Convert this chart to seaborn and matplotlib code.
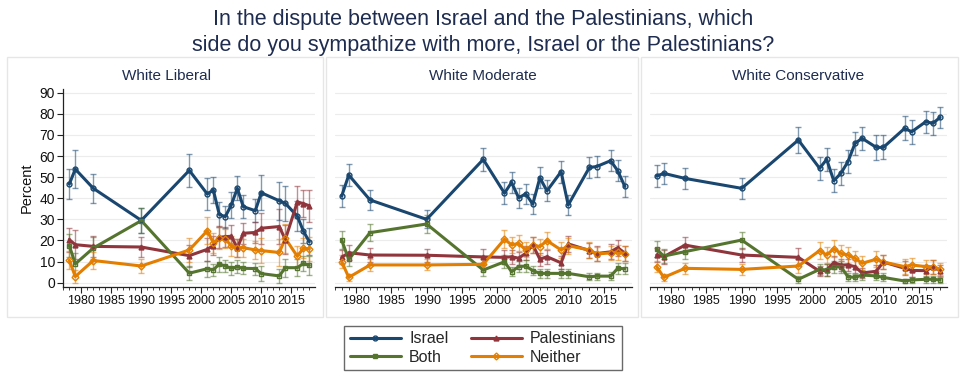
import numpy as np
import pandas as pd
import seaborn as sns
import matplotlib.pyplot as plt
from matplotlib.lines import Line2D
from matplotlib.patches import Rectangle

years = [1978, 1979, 1982, 1990, 1998, 2001, 2002, 2003, 2004, 2005,
         2006, 2007, 2009, 2010, 2013, 2014, 2016, 2017, 2018]

# White Liberal
lib_israel = [46.7, 53.8, 44.7, 29.5, 53.2, 42.0, 43.9, 32.3, 31.3, 36.8,
              44.7, 36.0, 34.1, 42.6, 38.8, 37.6, 31.5, 24.5, 19.4]
lib_pal = [20.4, 18.0, 17.2, 16.9, 12.8, 15.8, 17.6, 21.5, 21.8, 22.0,
           16.4, 23.4, 23.8, 25.8, 26.6, 20.4, 38.2, 37.5, 36.4]
lib_both = [17.5, 8.9, 16.4, 29.4, 4.5, 6.6, 6.1, 8.8, 7.9, 6.8,
            7.5, 6.8, 6.7, 4.3, 3.2, 7.1, 7.1, 9.1, 8.2]
lib_neither = [10.6, 2.9, 10.5, 7.9, 15.5, 24.6, 18.9, 21.0, 20.8, 17.4,
               16.6, 16.6, 15.5, 15.2, 14.3, 21.0, 12.5, 16.3, 16.0]
lib_n = [195, 118, 210, 230, 155, 170, 260, 240, 300, 250,
         290, 290, 300, 135, 110, 135, 165, 235, 150]

# White Moderate
mod_israel = [41.0, 51.0, 39.2, 30.0, 58.4, 42.4, 47.5, 40.2, 42.1, 37.2,
              49.7, 43.5, 52.6, 36.8, 54.6, 55.0, 57.8, 53.0, 45.6]
mod_pal = [12.0, 14.2, 13.1, 13.0, 12.2, 12.0, 12.3, 11.6, 13.9, 17.9,
           11.1, 12.3, 9.4, 18.4, 15.2, 13.8, 14.6, 16.6, 14.0]
mod_both = [20.2, 11.0, 23.7, 27.8, 6.0, 9.9, 5.2, 7.6, 7.9, 5.7,
            4.4, 4.4, 4.4, 4.4, 2.8, 3.1, 3.1, 6.8, 6.6]
mod_neither = [10.0, 2.5, 8.4, 8.4, 8.7, 20.6, 17.9, 18.6, 15.5, 17.9,
               17.1, 19.9, 15.5, 17.5, 15.5, 13.6, 14.1, 14.4, 13.8]
mod_n = [356, 367, 414, 437, 308, 360, 380, 400, 400, 420,
         380, 380, 360, 404, 380, 400, 380, 380, 370]

# White Conservative
con_israel = [50.5, 51.8, 49.4, 44.7, 67.6, 54.2, 58.4, 48.3, 51.8, 57.3,
              66.0, 68.4, 64.1, 64.1, 73.1, 71.5, 76.3, 75.5, 78.3]
con_pal = [13.1, 12.3, 17.8, 13.1, 12.0, 5.4, 6.0, 9.5, 8.4, 8.4,
           7.6, 4.6, 5.4, 9.8, 6.8, 5.8, 5.7, 7.4, 5.7]
con_both = [15.8, 12.6, 14.7, 20.2, 1.6, 6.3, 6.0, 7.3, 7.6, 2.8,
            2.5, 3.6, 3.2, 2.5, 0.8, 1.3, 1.6, 1.6, 1.3]
con_neither = [7.6, 2.5, 6.8, 6.3, 7.9, 15.2, 13.1, 16.1, 13.9, 13.1,
               11.6, 9.2, 11.1, 9.8, 7.6, 8.4, 7.6, 7.6, 6.3]
con_n = [368, 370, 380, 380, 226, 327, 300, 330, 330, 330,
         300, 280, 260, 270, 232, 250, 250, 250, 275]

panels = ["White Liberal", "White Moderate", "White Conservative"]
sides = ["Israel", "Palestinians", "Both", "Neither"]

values = {
    "White Liberal": [lib_israel, lib_pal, lib_both, lib_neither],
    "White Moderate": [mod_israel, mod_pal, mod_both, mod_neither],
    "White Conservative": [con_israel, con_pal, con_both, con_neither],
}
sizes = {"White Liberal": lib_n, "White Moderate": mod_n, "White Conservative": con_n}

rows = []
for p in panels:
    for s, vals in zip(sides, values[p]):
        for y, v, n in zip(years, vals, sizes[p]):
            rows.append({"panel": p, "side": s, "year": y, "pct": v, "n": n})
df = pd.DataFrame(rows)
# 95% confidence interval from sample size
df["ci"] = 1.96 * np.sqrt(df["pct"] * (100 - df["pct"]) / df["n"])

colors = {"Israel": "#1a476f", "Palestinians": "#90353b",
          "Both": "#55752f", "Neither": "#e37e00"}
markers = {"Israel": "o", "Palestinians": "^", "Both": "s", "Neither": "D"}
fills = {"Israel": "none", "Palestinians": "full", "Both": "none", "Neither": "none"}

sns.set_theme(style="white")
plt.rcParams["font.family"] = ["Liberation Sans", "DejaVu Sans"]

fig = plt.figure(figsize=(9.66, 3.86), dpi=100)
W, H = 966, 386

# light frames round each panel
for x0, x1 in [(7, 323), (326, 638), (641, 958)]:
    fig.patches.append(Rectangle((x0 / W, 1 - 317 / H), (x1 - x0) / W, 260 / H,
                                 transform=fig.transFigure, fill=False,
                                 edgecolor="#e6e6e6", linewidth=1))

axes_px = [(63.3, 315.3), (334.6, 631.9), (649.6, 947.1)]
top_px, bot_px = 88.5, 286.9

for p, (x0, x1) in zip(panels, axes_px):
    ax = fig.add_axes([x0 / W, 1 - bot_px / H, (x1 - x0) / W, (bot_px - top_px) / H])
    sub = df[df["panel"] == p]
    for s in sides:
        d = sub[sub["side"] == s]
        ax.errorbar(d["year"], d["pct"], yerr=d["ci"], fmt="none",
                    ecolor=colors[s], alpha=0.55, elinewidth=1.0,
                    capsize=2, capthick=1.0, zorder=2)
    sns.lineplot(data=sub, x="year", y="pct", hue="side", hue_order=sides,
                 palette=colors, linewidth=2.2, legend=False, ax=ax,
                 errorbar=None, zorder=3)
    for s in sides:
        d = sub[sub["side"] == s]
        ax.plot(d["year"], d["pct"], linestyle="none", marker=markers[s],
                markersize=3.5, color=colors[s], fillstyle=fills[s],
                markeredgewidth=1.0, zorder=4)

    ax.set_xlim(1977, 2019)
    ax.set_ylim(-2, 92)
    ax.set_yticks(range(0, 91, 10))
    ax.set_xticks(range(1980, 2016, 5))
    ax.set_xticks(range(1977, 2019), minor=True)
    ax.yaxis.grid(True, color="#ececec", linewidth=0.8)
    ax.set_axisbelow(True)
    for side in ["top", "right"]:
        ax.spines[side].set_visible(False)
    ax.spines["bottom"].set_color("#222222")
    ax.spines["bottom"].set_linewidth(0.9)
    ax.tick_params(axis="x", which="major", bottom=True, length=4, width=0.8,
                   color="#222222", labelsize=9, pad=2, labelcolor="#111111")
    ax.tick_params(axis="x", which="minor", bottom=True, length=2, width=0.6,
                   color="#222222")
    if p == "White Liberal":
        ax.spines["left"].set_color("#222222")
        ax.spines["left"].set_linewidth(0.9)
        ax.tick_params(axis="y", left=True, length=4, width=0.8, color="#222222",
                       labelsize=10, pad=2, labelcolor="#111111")
        ax.set_ylabel("Percent", fontsize=10.5, color="#111111", labelpad=4)
    else:
        ax.spines["left"].set_visible(False)
        ax.set_yticklabels([])
        ax.tick_params(axis="y", left=False)
        ax.set_ylabel("")
    ax.set_xlabel("")
    fig.text((x0 + x1) / 2 / W if p != "White Liberal" else 166.5 / W,
             1 - 75.5 / H, p, ha="center", va="center", fontsize=11,
             color="#1e2c50")

fig.text(0.5, 1 - 20 / H,
         "In the dispute between Israel and the Palestinians, which",
         ha="center", va="center", fontsize=15.5, color="#1e2c50")
fig.text(0.5, 1 - 45 / H,
         "side do you sympathize with more, Israel or the Palestinians?",
         ha="center", va="center", fontsize=15.5, color="#1e2c50")

order = ["Israel", "Both", "Palestinians", "Neither"]
handles = [Line2D([0], [0], color=colors[s], linewidth=2.2, marker=markers[s],
                  markersize=3.5, fillstyle=fills[s]) for s in order]
leg = fig.legend(handles, order, loc="center", bbox_to_anchor=(483 / W, 1 - 348 / H),
                 ncol=2, fontsize=11.5, frameon=True, fancybox=False,
                 handlelength=3.2, columnspacing=1.4, handletextpad=0.5,
                 borderpad=0.35, labelspacing=0.2)
leg.get_frame().set_edgecolor("#444444")
leg.get_frame().set_linewidth(1.0)

fig.savefig("out.png", dpi=100, facecolor="white")
